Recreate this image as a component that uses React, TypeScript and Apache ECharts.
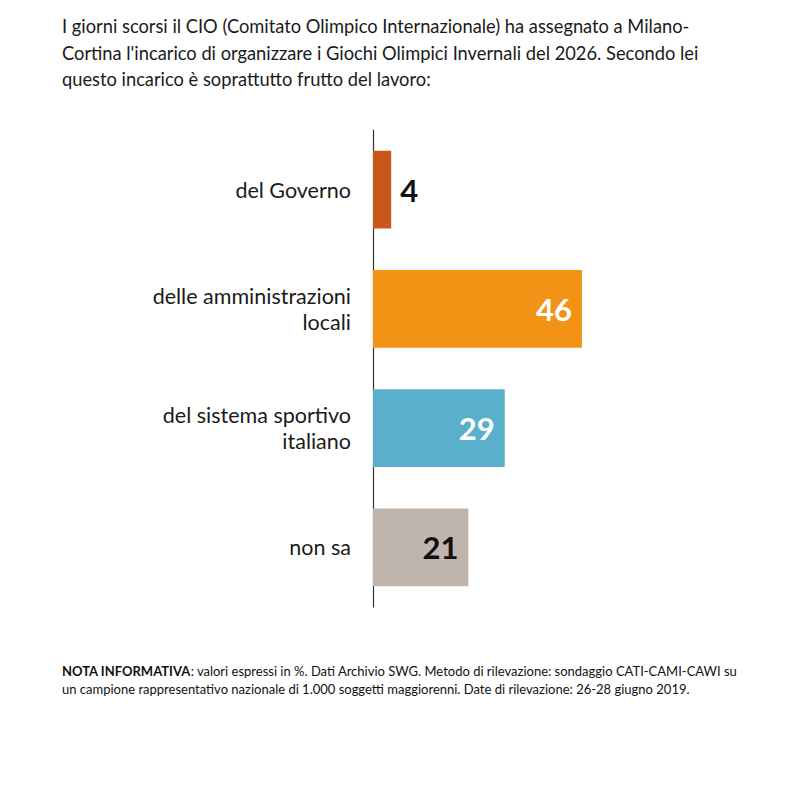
import React, { useEffect, useRef } from "react";
import * as echarts from "echarts";

const titleLines = [
  "I giorni scorsi il CIO (Comitato Olimpico Internazionale) ha assegnato a Milano-",
  "Cortina l'incarico di organizzare i Giochi Olimpici Invernali del 2026. Secondo lei",
  "questo incarico è soprattutto frutto del lavoro:",
];
const categories = ["del Governo", "delle amministrazioni\nlocali", "del sistema sportivo\nitaliano", "non sa"];
const values = [4, 46, 29, 21];
const barColors = ["#C9561B", "#F39316", "#5AAFCB", "#C0B5AD"];
const labelColors = ["#111111", "#FFFFFF", "#FFFFFF", "#111111"];
const labelInside = [false, true, true, true];
const noteBold = "NOTA INFORMATIVA";
const noteLines = [
  ": valori espressi in %. Dati Archivio SWG. Metodo di rilevazione: sondaggio CATI-CAMI-CAWI su",
  "un campione rappresentativo nazionale di 1.000 soggetti maggiorenni. Date di rilevazione: 26-28 giugno 2019.",
];

const FONT = "Lato";

export default function App() {
  const ref = useRef<HTMLDivElement>(null);
  useEffect(() => {
    if (!ref.current) return;
    const chart = echarts.init(ref.current, null, { renderer: "svg" });
    chart.setOption({
      animation: false,
      backgroundColor: "#FFFFFF",
      textStyle: { fontFamily: FONT },
      grid: { left: 365, top: 122, right: 108, bottom: 201, containLabel: false },
      xAxis: {
        type: "value",
        min: 0,
        max: 72,
        show: false,
      },
      yAxis: {
        type: "category",
        data: categories,
        inverse: true,
        axisLine: { show: true, lineStyle: { color: "#333333", width: 1.2 } },
        axisTick: { show: false },
        axisLabel: {
          color: "#1a1a1a",
          fontSize: 21.5,
          fontFamily: FONT,
          lineHeight: 26,
          margin: 22,
          align: "right",
        },
        splitLine: { show: false },
      },
      series: [
        {
          type: "bar",
          barWidth: "65.4%",
          data: values.map((v, i) => ({
            value: v,
            itemStyle: { color: barColors[i] },
            label: {
              show: true,
              position: labelInside[i] ? "insideRight" : "right",
              distance: labelInside[i] ? 10 : 9,
              color: labelColors[i],
              fontSize: 31,
              fontWeight: "bold",
              fontFamily: FONT,
            },
          })),
        },
      ],
      graphic: [
        ...titleLines.map((t, i) => ({
          type: "text",
          left: 54,
          top: 9 + i * 26.5,
          style: { text: t, fontSize: 18.3, fontFamily: FONT, fill: "#1a1a1a" },
        })),
        {
          type: "text",
          left: 54,
          top: 656,
          style: {
            text: "{b|" + noteBold + "}{r|" + noteLines[0] + "}\n{r|" + noteLines[1] + "}",
            fontFamily: FONT,
            rich: {
              b: { fontSize: 13, fontWeight: "bold", fill: "#111111", fontFamily: FONT, lineHeight: 18 },
              r: { fontSize: 13, fill: "#111111", fontFamily: FONT, lineHeight: 18 },
            },
          },
        },
      ],
    });
    return () => chart.dispose();
  }, []);
  return <div ref={ref} style={{ width: 800, height: 800 }} />;
}
